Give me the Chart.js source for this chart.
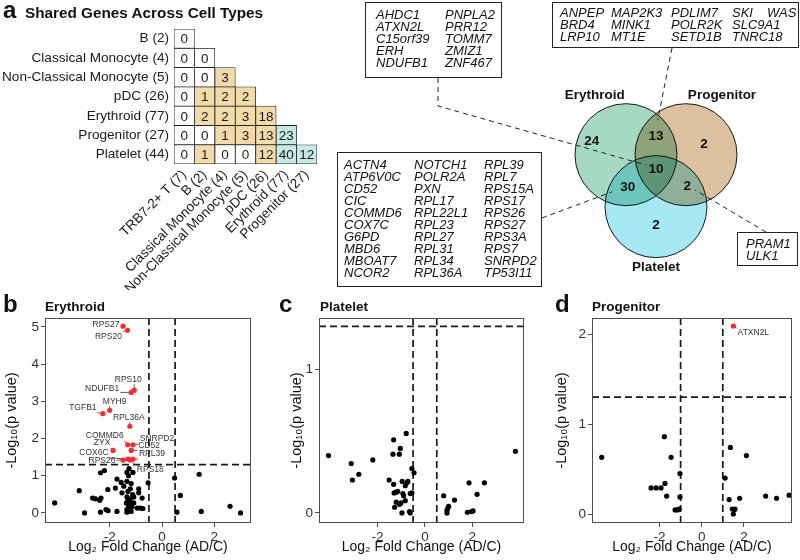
<!DOCTYPE html>
<html>
<head>
<meta charset="utf-8">
<script src="https://cdn.jsdelivr.net/npm/chart.js@4.4.1/dist/chart.umd.min.js"></script>
<style>
  body { margin: 0; background: #fff; font-family: "Liberation Sans", Arial, sans-serif; }
  #fig { position: relative; width: 800px; height: 560px; overflow: hidden; }
  #fig canvas { position: absolute; }
  .lab { position: absolute; font-weight: bold; line-height: 1; white-space: nowrap; color: #111; }
  .letter { font-size: 24px; }
  .ptitle { font-size: 13.5px; }
  .box { position: absolute; box-sizing: border-box; border: 1px solid #222; }
  .box span { position: absolute; font-style: italic; font-size: 13px; line-height: 12px; white-space: nowrap; color: #111; }
</style>
</head>
<body>
<div id="fig">
  <canvas id="heat" width="330" height="290" style="left:0;top:0"></canvas>
  <canvas id="venn"></canvas>
  <canvas id="volcB" width="265" height="270" style="left:0;top:290px"></canvas>
  <canvas id="volcC" width="265" height="270" style="left:270px;top:290px"></canvas>
  <canvas id="volcD" width="265" height="270" style="left:535px;top:290px"></canvas>

  <div class="lab letter" style="left:3px;top:-2px">a</div>
  <div class="lab" style="left:25px;top:5px;font-size:15.3px">Shared Genes Across Cell Types</div>
  <div class="lab letter" style="left:3px;top:292px">b</div>
  <div class="lab ptitle" style="left:45px;top:300px">Erythroid</div>
  <div class="lab letter" style="left:279px;top:292px">c</div>
  <div class="lab ptitle" style="left:320px;top:300px">Platelet</div>
  <div class="lab letter" style="left:555px;top:292px">d</div>
  <div class="lab ptitle" style="left:592px;top:300px">Progenitor</div>
</div>

<script>
/*==================== data ====================*/
// a: shared genes across cell types (lower triangle, one array per row)
const rowLabels = ['B (2)', 'Classical Monocyte (4)', 'Non-Classical Monocyte (5)', 'pDC (26)',
                   'Erythroid (77)', 'Progenitor (27)', 'Platelet (44)'];
const colLabels = ['TRB7-2+ T (7)', 'B (2)', 'Classical Monocyte (4)', 'Non-Classical Monocyte (5)',
                   'pDC (26)', 'Erythroid (77)', 'Progenitor (27)'];
const sharedB          = [0];
const sharedClassMono  = [0, 0];
const sharedNonClass   = [0, 0, 3];
const sharedPDC        = [0, 1, 2, 2];
const sharedErythroid  = [0, 2, 2, 3, 18];
const sharedProgenitor = [0, 0, 1, 3, 13, 23];
const sharedPlatelet   = [0, 1, 0, 0, 12, 40, 12];
const sharedRows = [sharedB, sharedClassMono, sharedNonClass, sharedPDC,
                    sharedErythroid, sharedProgenitor, sharedPlatelet];
const vennTrio = ['Erythroid (77)', 'Progenitor (27)', 'Platelet (44)'];

// Venn: region order = Ery only, Prog only, Plat only, Ery&Prog, Ery&Plat, Prog&Plat, all three
const vennSets = ['Erythroid', 'Progenitor', 'Platelet'];
const vennCounts = [24, 2, 2, 13, 30, 2, 10];

const genesAll3     = ['AHDC1', 'ATXN2L', 'C15orf39', 'ERH', 'NDUFB1', 'PNPLA2', 'PRR12', 'TOMM7', 'ZMIZ1', 'ZNF467'];
const genesEryProg  = ['ANPEP', 'BRD4', 'LRP10', 'MAP2K3', 'MINK1', 'MT1E', 'PDLIM7', 'POLR2K', 'SETD1B',
                       'SKI', 'SLC9A1', 'TNRC18', 'WAS'];
const genesEryPlat  = ['ACTN4', 'ATP6V0C', 'CD52', 'CIC', 'COMMD6', 'COX7C', 'G6PD', 'MBD6', 'MBOAT7', 'NCOR2',
                       'NOTCH1', 'POLR2A', 'PXN', 'RPL17', 'RPL22L1', 'RPL23', 'RPL27', 'RPL31', 'RPL34', 'RPL36A',
                       'RPL39', 'RPL7', 'RPS15A', 'RPS17', 'RPS26', 'RPS27', 'RPS3A', 'RPS7', 'SNRPD2', 'TP53I11'];
const genesProgPlat = ['PRAM1', 'ULK1'];

// b: Erythroid volcano
const eryFC = [-2.35, -2.2, -1.26, -1.34, -1.11, -1.28, 1.42, 0.48, -0.53, -1.72, -1.56, -1.34, -1.46, -1.18,
               -2.07, -1.78, -3.16, -1.21, -0.89, -1.53, -1.3, -1.12, -0.89, 0.7, -1.34, -1.21, -1.08, -0.76,
               -2.65, -2.54, -2.38, -2.33, -4.1, -1.3, -1.36, -1.21, -1.08, -1.27, -1.15, -1.34, -1.18, -0.95,
               -0.83, -0.73, -2.14, -2.06, -2.35, -2.96, -1.72, -1.34, 0.57, 1.5, 2.6, 3.0];
const eryP  = [1.08, 1.14, 1.19, 1.09, 1.09, 1.0, 1.04, 0.94, 0.81, 0.91, 0.82, 0.85, 0.72, 0.79,
               0.63, 0.67, 0.6, 0.65, 0.65, 0.54, 0.58, 0.49, 0.54, 0.47, 0.43, 0.38, 0.43, 0.4,
               0.4, 0.38, 0.34, 0.4, 0.27, 0.34, 0.27, 0.27, 0.27, 0.18, 0.16, 0.09, 0.04, 0.13,
               0.13, 0.12, 0.09, 0.06, 0.02, 0, 0.04, 0.02, 0.02, 0.04, 0.18, 0];
const erySigGenes = ['RPS27', 'RPS20', 'RPS10', 'NDUFB1', 'MYH9', 'TGFB1', 'RPL36A', 'COMMD6', 'SNRPD2',
                     'CD52', 'ZYX', 'COX6C', 'RPL39', 'RPS26', 'RPS18'];
const erySigFC = [-1.49, -1.32, -1.06, -1.18, -2.0, -2.26, -1.23, -1.31, -1.11, -1.18, -1.87, -1.3, -1.11, -1.49, -1.21];
const erySigP  = [5.02, 4.91, 3.3, 3.24, 2.76, 2.67, 2.33, 1.83, 1.83, 1.68, 1.68, 1.45, 1.45, 1.42, 1.42];

// c: Platelet volcano
const platFC = [-4.07, -3.11, -3.06, -2.79, -2.2, -1.32, -1.35, -1.04, -1.08, -0.79, -0.55, -0.46, -1.51, -1.32,
                -0.96, -0.83, -0.76, -0.72, -1.3, -1.21, -1.15, -0.93, -0.9, -0.62, -0.55, -1.21, -1.01, -0.83,
                -1.28, -0.97, -0.65, -0.62, -1.07, 0.79, 0.93, 0.93, 0.97, 1.0, 1.25, 1.79, 1.86, 1.96, 2.03,
                2.2, 2.51, 3.82];
const platP  = [0.4, 0.345, 0.23, 0.27, 0.37, 0.51, 0.41, 0.45, 0.41, 0.555, 0.31, 0.28, 0.23, 0.2,
                0.22, 0.19, 0.21, 0.22, 0.14, 0.145, 0.15, 0.135, 0.12, 0.135, 0.14, 0.075, 0.07, 0.086,
                0.04, 0, 0.01, 0, 0.06, 0.12, 0.02, 0, 0.035, 0.047, 0.09, 0.005, 0.21, 0.01, 0.014,
                0.13, 0.21, 0.43];

// d: Progenitor volcano
const progFC = [-4.74, -1.77, -1.45, -1.03, -2.4, -2.16, -1.93, -1.74, -1.66, -1.03, -1.26, -1.14, -1.07,
                1.11, 1.36, 2.12, 1.3, 1.8, 1.45, 1.55, 1.58, 1.5, 3.03, 3.55, 4.14];
const progP  = [0.63, 0.86, 0.63, 0.45, 0.29, 0.29, 0.29, 0.34, 0.2, 0.19, 0.045, 0.045, 0.055,
                0.4, 0.74, 0.65, 0.16, 0.175, 0.055, 0.05, 0.055, 0.0, 0.2, 0.175, 0.21];
const progSigGenes = ['ATXN2L'];
const progSigFC = [1.5];
const progSigP  = [2.09];

const fcTicks = [-2, 0, 2];
const eryYTicks = [0, 1, 2, 3, 4, 5];
const platYTicks = [0, 1];
const progYTicks = [0, 1, 2];

/*==================== common ====================*/
const FONT = '"Liberation Sans", Arial, Helvetica, sans-serif';
Chart.defaults.font.family = FONT;
Chart.defaults.color = '#222';
Chart.defaults.animation = false;
Chart.defaults.events = [];
Chart.defaults.responsive = false;
Chart.defaults.plugins.legend.display = false;
Chart.defaults.plugins.tooltip.enabled = false;

/*==================== a: heatmap ====================*/
const TAN = '#f3dba9', TEAL = '#c4ebe3';
function cellColor(r, c) {
    if (!sharedRows[r][c]) return '#ffffff';
    return (vennTrio.includes(rowLabels[r]) && vennTrio.includes(colLabels[c])) ? TEAL : TAN;
}

const cellNumbers = {
    id: 'cellNumbers',
    afterDatasetsDraw(chart) {
        const ctx = chart.ctx;
        ctx.save();
        ctx.font = '13.5px ' + FONT;
        ctx.fillStyle = '#1a1a1a';
        ctx.textAlign = 'center';
        ctx.textBaseline = 'middle';
        sharedRows.forEach((vals, r) => {
            const meta = chart.getDatasetMeta(r);
            vals.forEach((v, c) => {
                const el = meta.data[c];
                ctx.fillText(String(v), el.x, (el.y + el.base) / 2 + 1);
            });
        });
        ctx.restore();
    }
};

new Chart(document.getElementById('heat'), {
    type: 'bar',
    data: {
        labels: colLabels,
        datasets: sharedRows.map((vals, r) => ({
            data: colLabels.map((c, j) => j < vals.length ? [r, r + 1] : null),
            backgroundColor: ctx => cellColor(r, ctx.dataIndex),
            borderColor: '#222',
            borderWidth: 0.8,
            borderSkipped: false,
            barPercentage: 1,
            categoryPercentage: 1,
            grouped: false
        }))
    },
    options: {
        layout: { padding: { left: 0, top: 29, right: 13, bottom: 0 } },
        scales: {
            x: {
                grid: { display: false, drawTicks: false },
                border: { display: false },
                ticks: { minRotation: 45, maxRotation: 45, autoSkip: false, padding: 3,
                         font: { size: 13.6 }, color: '#1a1a1a' },
                afterFit: s => { s.height = 126; }
            },
            y: {
                type: 'linear', min: 0, max: 7, reverse: true,
                grid: { display: false, drawTicks: false },
                border: { display: false },
                afterBuildTicks: s => { s.ticks = rowLabels.map((_, i) => ({ value: i + 0.5 })); },
                afterFit: s => { s.width = 174; },
                ticks: { autoSkip: false, padding: 5, font: { size: 13.6 }, color: '#1a1a1a',
                         callback: (v, i) => rowLabels[i] }
            }
        }
    },
    plugins: [cellNumbers]
});

/*==================== Venn ====================*/
// plotting region of the Venn on the page (the canvas is enlarged by the bubble overflow)
const VENN_LEFT = 330, VENN_TOP = 0, VENN_W = 470, VENN_H = 290;
const VX_MIN = -5.4333, VX_MAX = 2.4, VY_MIN = -1.9667, VY_MAX = 2.8667;
const VENN_R = 0.85;                          // circle radius, in units of centre spacing
const VENN_BORDER = 1;
const vennAngles = [150, 30, 270];
const vennColors = ['#a6d9c3', '#dcc0a0', '#a6e9f5'];
const vennSetLabelPos = [[-1.02, 1.28], [1.1, 1.28], [0, -1.58]];
const vennCountPos = [[-1.07, 0.52], [0.8, 0.47], [0, -0.88], [0, 0.6], [-0.47, -0.25], [0.52, -0.23], [0, 0.05]];

const vennPxPerUnit = VENN_W / (VX_MAX - VX_MIN);
const vennRadiusPx = VENN_R * vennPxPerUnit;
const VENN_PAD = vennRadiusPx + VENN_BORDER;   // Chart.js reserves this around the chart area
const vennCanvas = document.getElementById('venn');
vennCanvas.width = Math.round(VENN_W + 2 * VENN_PAD);
vennCanvas.height = Math.round(VENN_H + 2 * VENN_PAD);
vennCanvas.style.left = (VENN_LEFT - VENN_PAD) + 'px';
vennCanvas.style.top = (VENN_TOP - VENN_PAD) + 'px';

const geneBoxes = [
    { genes: genesAll3,     rows: 5,  left: 365, top: 2,   width: 137, height: 76,  cols: [10, 79], textTop: 6,
      leader: { from: [[438, 78], [438, 106]], to: [-0.18, 0.12] } },
    { genes: genesEryProg,  rows: 3,  left: 552, top: 2,   width: 247, height: 46,  cols: [7, 58, 118, 179, 214], textTop: 4,
      leader: { from: [[672, 48]], to: [0.03, 0.87] } },
    { genes: genesEryPlat,  rows: 10, left: 337, top: 152, width: 205, height: 135, cols: [6, 76, 146], textTop: 6,
      leader: { from: [[542, 218]], to: [-0.73, -0.33] } },
    { genes: genesProgPlat, rows: 2,  left: 737, top: 232, width: 61,  height: 34,  cols: [8], textTop: 5,
      leader: { from: [[766, 232]], to: [0.65, -0.3] } }
];

const fig = document.getElementById('fig');
geneBoxes.forEach(b => {
    const div = document.createElement('div');
    div.className = 'box';
    Object.assign(div.style, { left: b.left + 'px', top: b.top + 'px', width: b.width + 'px', height: b.height + 'px' });
    b.genes.forEach((g, i) => {
        const s = document.createElement('span');
        s.textContent = g;
        s.style.left = b.cols[Math.floor(i / b.rows)] + 'px';
        s.style.top = (b.textTop + (i % b.rows) * 12) + 'px';
        div.appendChild(s);
    });
    fig.appendChild(div);
});

const vennDecor = {
    id: 'vennDecor',
    beforeDatasetDraw(chart) {
        chart.ctx.save();
        chart.ctx.globalCompositeOperation = 'multiply';
    },
    afterDatasetDraw(chart) {
        chart.ctx.restore();
    },
    afterDatasetsDraw(chart) {
        const { ctx, scales: { x, y } } = chart;
        const ox = VENN_LEFT - VENN_PAD, oy = VENN_TOP - VENN_PAD;
        ctx.save();
        // leader lines from the gene boxes
        ctx.strokeStyle = '#222';
        ctx.lineWidth = 1;
        ctx.setLineDash([5, 4]);
        geneBoxes.forEach(b => {
            ctx.beginPath();
            b.leader.from.forEach(([px, py], i) => {
                if (i === 0) ctx.moveTo(px - ox, py - oy); else ctx.lineTo(px - ox, py - oy);
            });
            ctx.lineTo(x.getPixelForValue(b.leader.to[0]), y.getPixelForValue(b.leader.to[1]));
            ctx.stroke();
        });
        ctx.setLineDash([]);
        // set names and region counts
        ctx.fillStyle = '#111';
        ctx.textAlign = 'center';
        ctx.textBaseline = 'middle';
        ctx.font = 'bold 13.5px ' + FONT;
        vennSets.forEach((s, i) => {
            ctx.fillText(s, x.getPixelForValue(vennSetLabelPos[i][0]), y.getPixelForValue(vennSetLabelPos[i][1]));
        });
        vennCounts.forEach((n, i) => {
            ctx.fillText(String(n), x.getPixelForValue(vennCountPos[i][0]), y.getPixelForValue(vennCountPos[i][1]));
        });
        ctx.restore();
    }
};

const vennD = 1 / Math.sqrt(3);
new Chart(vennCanvas, {
    type: 'bubble',
    data: {
        datasets: [{
            data: vennAngles.map(a => ({
                x: vennD * Math.cos(a * Math.PI / 180),
                y: vennD * Math.sin(a * Math.PI / 180),
                r: vennRadiusPx
            })),
            backgroundColor: vennColors,
            borderColor: '#1a1a1a',
            borderWidth: VENN_BORDER,
            clip: false
        }]
    },
    options: {
        layout: { padding: 0 },
        scales: {
            x: { type: 'linear', display: false, min: VX_MIN, max: VX_MAX },
            y: { type: 'linear', display: false, min: VY_MIN, max: VY_MAX }
        }
    },
    plugins: [vennDecor]
});

/*==================== b-d: volcano plots ====================*/
function labelBox(ctx, text, tx, ty) {
    const w = ctx.measureText(text).width;
    return { l: tx - w / 2 - 1, r: tx + w / 2 + 1, t: ty - 5, b: ty + 5 };
}

const volcanoDecor = {
    id: 'volcanoDecor',
    beforeDatasetsDraw(chart, args, opts) {
        const { ctx, chartArea: a, scales: { x, y } } = chart;
        ctx.save();
        ctx.strokeStyle = '#1a1a1a';
        ctx.lineWidth = 1.7;
        ctx.setLineDash([7, 4]);
        [-opts.fcCut, opts.fcCut].forEach(v => {
            const px = x.getPixelForValue(v);
            ctx.beginPath(); ctx.moveTo(px, a.top); ctx.lineTo(px, a.bottom); ctx.stroke();
        });
        const py = y.getPixelForValue(-Math.log10(0.05));
        ctx.beginPath(); ctx.moveTo(a.left, py); ctx.lineTo(a.right, py); ctx.stroke();
        ctx.setLineDash([]);
        // leader segments for labelled genes
        ctx.font = '8.5px ' + FONT;
        ctx.strokeStyle = '#333';
        ctx.lineWidth = 0.8;
        chart.getDatasetMeta(1).data.forEach((pt, i) => {
            const [dx, dy] = opts.offsets[i];
            const bb = labelBox(ctx, opts.genes[i], pt.x + dx, pt.y + dy);
            const bx = Math.min(Math.max(pt.x, bb.l), bb.r);
            const by = Math.min(Math.max(pt.y, bb.t), bb.b);
            if (Math.hypot(bx - pt.x, by - pt.y) > 3) {
                ctx.beginPath(); ctx.moveTo(pt.x, pt.y); ctx.lineTo(bx, by); ctx.stroke();
            }
        });
        ctx.restore();
    },
    afterDatasetsDraw(chart, args, opts) {
        const { ctx, chartArea: a } = chart;
        ctx.save();
        ctx.strokeStyle = '#4d4d4d';
        ctx.lineWidth = 1;
        ctx.strokeRect(a.left + 0.5, a.top + 0.5, a.right - a.left - 1, a.bottom - a.top - 1);
        ctx.font = '8.5px ' + FONT;
        ctx.fillStyle = '#333';
        ctx.textAlign = 'center';
        ctx.textBaseline = 'middle';
        chart.getDatasetMeta(1).data.forEach((pt, i) => {
            const [dx, dy] = opts.offsets[i];
            ctx.fillText(opts.genes[i], pt.x + dx, pt.y + dy);
        });
        ctx.restore();
    }
};

function volcano(id, fc, p, sigFC, sigP, sigGenes, yTicks, lay) {
    const pts = (xs, ys) => xs.map((v, i) => ({ x: v, y: ys[i] }));
    return new Chart(document.getElementById(id), {
        type: 'scatter',
        data: {
            datasets: [
                { data: pts(fc, p), backgroundColor: '#000', borderWidth: 0, pointRadius: 2.6 },
                { data: pts(sigFC, sigP), backgroundColor: '#ff2828', borderWidth: 0, pointRadius: 2.6 }
            ]
        },
        options: {
            layout: { padding: { left: lay.padLeft, right: lay.padRight, top: 28, bottom: 0 } },
            scales: {
                x: {
                    type: 'linear', min: lay.xMin, max: lay.xMax,
                    afterBuildTicks: s => { s.ticks = fcTicks.map(v => ({ value: v })); },
                    afterFit: s => { s.height = 37; },
                    grid: { drawOnChartArea: false, tickLength: 4, color: '#4d4d4d' },
                    border: { display: false },
                    ticks: { font: { size: 13.5 }, color: '#333', padding: 2 },
                    title: { display: true, text: 'Log₂ Fold Change (AD/C)', font: { size: 14 }, color: '#111',
                             padding: { top: 0, bottom: 4 } }
                },
                y: {
                    type: 'linear', min: lay.yMin, max: lay.yMax,
                    afterBuildTicks: s => { s.ticks = yTicks.map(v => ({ value: v })); },
                    afterFit: s => { s.width = lay.yWidth; },
                    grid: { drawOnChartArea: false, tickLength: 4, color: '#4d4d4d' },
                    border: { display: false },
                    ticks: { font: { size: 13.5 }, color: '#333', padding: 2 },
                    title: { display: true, text: '-Log₁₀(p value)', font: { size: 14.5 }, color: '#111',
                             padding: { top: 3, bottom: 0 } }
                }
            },
            plugins: { volcanoDecor: { fcCut: lay.fcCut, genes: sigGenes, offsets: lay.offsets } }
        },
        plugins: [volcanoDecor]
    });
}

volcano('volcB', eryFC, eryP, erySigFC, erySigP, erySigGenes, eryYTicks, {
    xMin: -4.47, xMax: 3.4, yMin: -0.27, yMax: 5.24, fcCut: 0.5,
    padLeft: 0, yWidth: 45, padRight: 14,
    offsets: [[-17, -2], [-19, 6], [-6, -11], [-29, -3.5], [5, -9], [-20, -6], [-1, -9], [-23, -9],
              [24, -6], [18, -4.5], [-11, -7.5], [-34, -6], [19, -5], [-21, 1], [20, 10]]
});
volcano('volcC', platFC, platP, [], [], [], platYTicks, {
    xMin: -4.47, xMax: 4.18, yMin: -0.07, yMax: 1.36, fcCut: 0.5,
    padLeft: 15, yWidth: 34, padRight: 11, offsets: []
});
volcano('volcD', progFC, progP, progSigFC, progSigP, progSigGenes, progYTicks, {
    xMin: -5.2, xMax: 4.28, yMin: -0.1, yMax: 2.18, fcCut: 1,
    padLeft: 15, yWidth: 42, padRight: 8,
    offsets: [[20, 7]]
});
</script>
</body>
</html>
